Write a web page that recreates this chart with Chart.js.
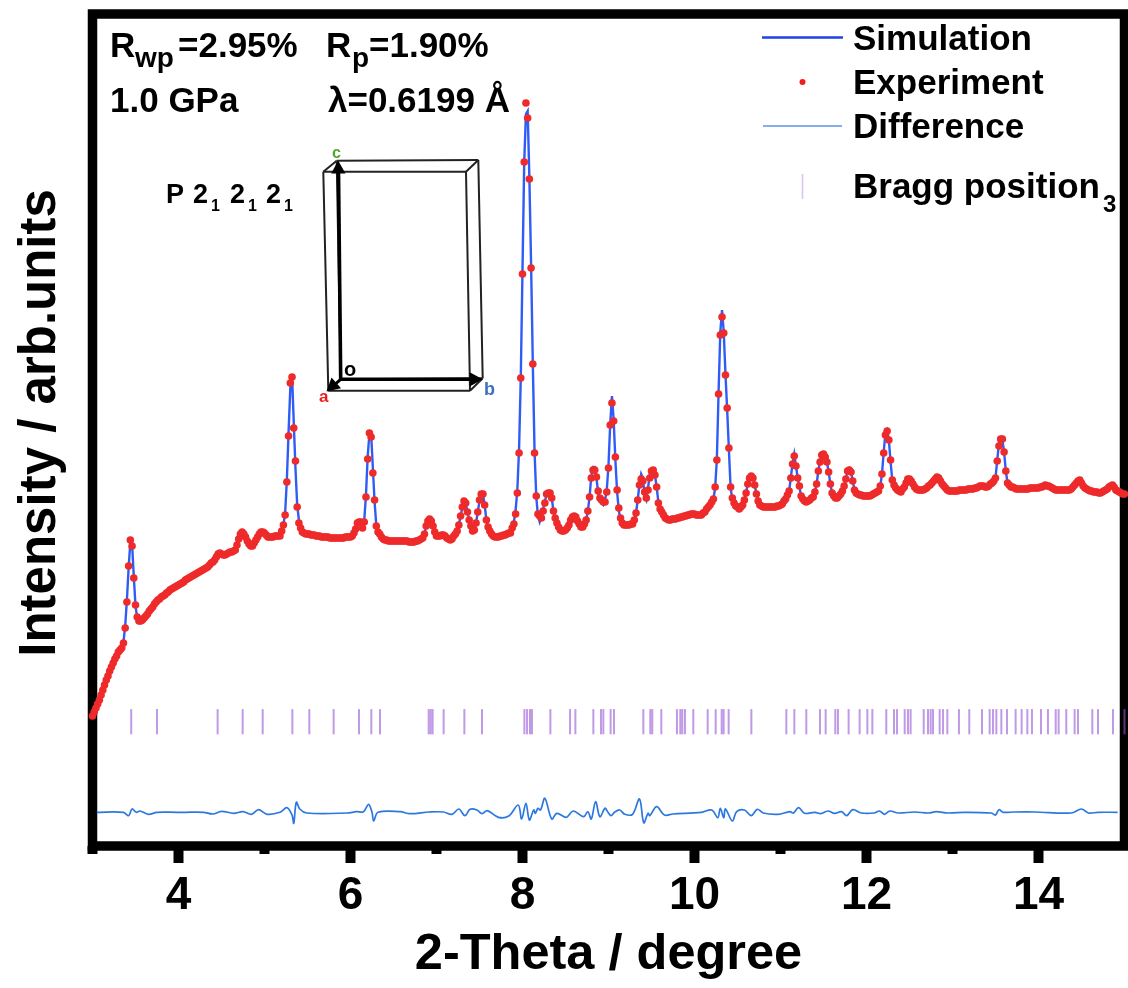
<!DOCTYPE html>
<html>
<head>
<meta charset="utf-8">
<title>Rietveld refinement at 1.0 GPa</title>
<script src="https://cdn.jsdelivr.net/npm/chart.js@4/dist/chart.umd.min.js"></script>
<style>
  html, body { margin: 0; padding: 0; background: #fff; }
  canvas { display: block; }
</style>
</head>
<body>
<canvas id="chart" width="1128" height="988"></canvas>
<script>
const THETA_START = 3;
const THETA_STEP = 0.02;

// one value every 0.02 degree, ten values per row
const experiment = [
  284,288,292,296,300,305,310,315,320,324,
  329,333,337,341,344,348,350,352,357,372,
  398,434,460,454,422,395,383,379,379,380,
  382,384,386,389,391,393,396,398,400,401,
  403,404,405,407,408,410,411,412,413,414,
  415,416,417,418,420,421,422,423,424,425,
  426,427,428,429,430,431,432,433,435,437,
  438,440,443,446,447,446,445,445,446,447,
  448,448,449,450,455,461,466,468,466,463,
  459,456,454,454,457,460,463,466,468,468,
  467,465,463,463,463,463,464,464,464,464,
  469,475,485,518,564,617,623,572,539,493,
  477,472,468,467,466,466,466,465,465,465,
  464,464,464,463,463,463,463,463,462,462,
  462,462,462,462,462,462,462,463,463,463,
  463,464,467,471,477,478,478,472,478,503,
  541,567,563,527,500,474,468,466,463,461,
  460,460,459,459,459,459,459,459,459,459,
  459,459,459,459,458,458,458,458,459,459,
  460,461,462,466,474,479,481,479,474,468,
  464,464,464,465,465,464,462,461,460,461,
  464,466,469,475,484,493,499,497,488,480,
  474,469,470,477,488,500,506,506,495,480,
  473,469,466,464,463,463,463,464,464,465,
  465,466,467,467,472,476,486,507,547,622,
  726,838,897,882,821,732,636,547,504,486,
  484,482,489,497,506,507,507,502,489,482,
  477,473,470,469,469,470,472,475,480,483,
  484,483,479,476,473,473,476,480,489,503,
  522,530,530,523,509,502,500,498,498,508,
  532,575,597,579,543,510,492,482,477,475,
  475,475,475,476,476,480,487,500,515,521,
  519,508,502,510,522,529,530,525,513,497,
  491,488,485,482,481,480,480,481,481,481,
  482,482,483,483,484,484,485,485,486,486,
  486,485,485,485,485,487,488,491,493,495,
  498,501,513,540,606,665,683,667,625,592,
  552,513,502,497,494,493,491,493,495,500,
  507,516,522,524,522,515,506,499,495,494,
  493,493,493,493,493,493,493,493,494,494,
  495,496,499,501,505,509,522,536,544,534,
  522,514,504,501,499,498,499,500,502,503,
  508,516,529,538,545,546,543,538,528,516,
  507,504,502,502,504,506,509,514,521,529,
  530,528,519,510,507,506,505,505,504,504,
  504,504,504,505,506,507,508,509,514,526,
  547,565,569,560,540,520,515,512,510,509,
  508,511,513,517,521,521,519,516,513,511,
  510,510,510,510,511,512,514,515,517,519,
  521,523,522,519,516,514,512,510,509,509,
  509,509,509,509,510,510,510,510,510,511,
  511,511,511,512,512,513,514,514,514,513,
  513,514,516,517,519,522,539,554,561,561,
  548,529,517,515,513,513,512,511,511,511,
  511,511,511,511,511,512,512,512,512,512,
  512,513,513,514,515,514,514,513,512,511,
  510,510,510,510,510,510,510,510,510,511,
  513,515,517,519,520,517,514,512,511,510,
  509,509,508,508,508,507,507,508,509,510,
  511,513,514,515,513,510,509,508,507,506,
  506
];

const simulation = [
  284,288,292,296,300,305,310,315,320,324,
  329,333,337,341,344,348,350,352,358,374,
  400,432,458,456,424,394,382,379,379,380,
  382,384,386,389,391,393,396,398,400,401,
  403,404,405,407,408,410,411,412,413,414,
  415,416,417,418,420,421,422,423,424,425,
  426,427,428,429,430,431,432,433,435,437,
  438,440,442,445,447,446,445,445,446,447,
  448,448,449,450,455,461,465,467,466,463,
  459,456,454,454,457,460,463,466,468,468,
  467,465,463,463,463,463,464,464,464,464,
  468,475,487,520,568,612,625,578,532,495,
  480,472,468,467,466,466,466,465,465,465,
  464,464,464,463,463,463,463,463,462,462,
  462,462,462,462,462,462,462,463,463,463,
  463,464,467,470,475,477,478,476,480,505,
  544,566,566,532,498,475,468,466,463,461,
  460,460,459,459,459,459,459,459,459,459,
  459,459,459,459,458,458,458,458,459,459,
  460,461,462,466,474,478,480,479,474,468,
  464,464,464,465,465,464,462,461,460,461,
  464,466,469,475,484,492,498,497,488,480,
  474,468,471,477,488,499,505,506,495,480,
  472,468,466,464,463,463,463,464,464,466,
  468,468,468,469,473,478,490,510,551,622,
  730,838,886,889,822,735,636,549,503,484,
  478,483,491,499,505,507,507,502,489,482,
  477,473,470,469,469,470,472,475,480,483,
  484,483,479,476,473,473,476,480,489,503,
  524,533,533,522,507,499,497,495,500,510,
  535,576,604,580,540,508,490,478,475,475,
  475,475,475,476,476,480,487,500,516,526,
  522,504,500,512,526,530,531,525,513,498,
  490,486,485,482,481,480,480,481,481,481,
  482,482,483,483,484,484,485,485,486,486,
  486,485,485,485,485,487,488,491,493,495,
  498,501,512,541,608,668,690,668,626,590,
  550,512,500,496,494,493,491,493,495,500,
  507,517,523,525,522,515,506,499,495,494,
  493,493,493,493,493,493,493,493,494,494,
  495,496,499,501,505,509,522,537,546,534,
  522,513,504,501,499,498,499,500,502,503,
  508,516,529,539,545,546,544,538,528,516,
  507,504,502,502,504,506,509,514,521,530,
  532,528,519,510,507,506,505,505,504,504,
  504,504,504,505,506,507,508,509,514,526,
  548,567,570,560,538,520,515,512,510,509,
  508,511,513,517,521,521,519,516,513,511,
  510,510,510,510,511,512,514,515,517,519,
  521,523,522,519,516,514,512,510,509,509,
  509,509,509,509,510,510,510,510,510,511,
  511,511,511,512,512,513,514,514,514,513,
  513,514,516,517,519,522,540,556,562,560,
  548,529,517,515,513,513,512,511,511,511,
  511,511,511,511,511,512,512,512,512,512,
  512,513,513,514,515,514,514,513,512,511,
  510,510,510,510,510,510,510,510,510,511,
  513,515,517,519,520,517,514,512,511,510,
  509,509,508,508,508,507,507,508,509,510,
  511,513,514,515,513,510,509,508,507,506,
  506
];

const differenceTheta = [
  3.05,3.36,3.42,3.46,3.51,3.55,3.65,3.75,3.98,4.08,4.29,4.40,4.50,4.64,4.75,4.85,4.93,5.03,5.18,5.26,
  5.32,5.34,5.37,5.41,5.49,5.96,6.07,6.15,6.21,6.25,6.27,6.32,6.58,6.69,6.92,7.08,7.18,7.26,7.33,7.39,
  7.47,7.53,7.59,7.72,7.84,7.95,7.99,8.04,8.08,8.13,8.15,8.18,8.21,8.26,8.34,8.40,8.51,8.59,8.71,8.76,
  8.80,8.85,8.90,8.96,8.99,9.03,9.07,9.13,9.19,9.28,9.36,9.41,9.46,9.48,9.56,9.65,9.75,10.08,10.20,10.27,
  10.30,10.34,10.36,10.44,10.49,10.58,10.66,10.73,10.80,10.97,11.11,11.15,11.21,11.28,11.40,11.47,11.55,11.63,11.71,11.77,
  11.84,11.94,12.09,12.15,12.21,12.27,12.37,12.56,12.72,12.81,12.95,13.14,13.45,13.50,13.54,13.59,13.72,13.96,14.38,14.50,
  14.58,14.69,14.92
];
const difference = [
  187.7,187.7,184.3,191,187.7,189,185.7,187.7,187.7,187.7,187.7,186,188.7,186.7,188.3,185.7,190.3,185.7,187.7,192.3,
  185,176.7,197.7,191,187,187,188.3,188.3,195.7,187.7,179,187.7,188.3,186.3,188,188,185.7,191,184.3,190.7,
  190,186.3,189.3,182.7,184,195,181,196.7,180,190,186.7,191.7,190,201.7,181,186.7,182.7,189,183.3,188.3,
  181,198.3,183.3,191.7,188.3,184.3,187.7,190,185.7,185.7,201,177.3,186.7,184.3,193.3,185,186,187.7,190,182.3,
  191.7,182.3,191,179,188.3,190,184.3,190.7,187,185.7,188.3,187,192.3,186.7,187.7,186.3,189,186.7,188.3,184.3,
  190.3,187,187,189,185.7,189,187,188,187,188.3,187,187.7,187,185,190.3,187.7,188,188,187,191,
  187,187.7,187.7
];

const braggPositions = [
  3.45,3.75,4.455,4.746,4.979,5.324,5.521,5.804,6.099,6.242,6.343,6.909,6.932,6.955,7.083,7.324,7.529,
  8.022,8.053,8.087,8.11,8.324,8.553,8.615,8.824,8.913,8.94,9.025,9.064,9.405,9.486,9.509,9.614,9.796,
  9.835,9.858,9.889,9.986,10.153,10.246,10.316,10.339,10.397,10.661,11.068,11.161,11.30,11.459,11.525,
  11.637,11.668,11.792,11.92,12.01,12.068,12.23,12.32,12.355,12.444,12.482,12.513,12.665,12.715,12.746,
  12.773,12.851,12.89,12.94,13.075,13.195,13.343,13.432,13.471,13.51,13.568,13.634,13.734,13.804,13.87,
  13.924,14.029,14.11,14.2,14.234,14.323,14.42,14.459,14.626,14.692,14.866,15
];
const BRAGG_LEVEL = 278.3;

const seriesLabels = ['Simulation', 'Experiment', 'Difference', 'Bragg position'];
const xTickLabels = [4, 6, 8, 10, 12, 14];

const FONT = '"Liberation Sans", Arial, sans-serif';
const BLACK = '#000';

function toPoints(xs, ys) {
  return ys.map((y, i) => ({ x: xs[i], y: y }));
}

function text(ctx, str, x, y, size, color) {
  ctx.font = `bold ${size}px ${FONT}`;
  ctx.fillStyle = color || BLACK;
  ctx.textAlign = 'left';
  ctx.textBaseline = 'alphabetic';
  ctx.fillText(str, x, y);
}

function line(ctx, x1, y1, x2, y2, width, color) {
  ctx.beginPath();
  ctx.moveTo(x1, y1);
  ctx.lineTo(x2, y2);
  ctx.lineWidth = width;
  ctx.strokeStyle = color || BLACK;
  ctx.stroke();
}

function arrowHead(ctx, x, y, angle, size) {
  ctx.save();
  ctx.translate(x, y);
  ctx.rotate(angle);
  ctx.beginPath();
  ctx.moveTo(0, 0);
  ctx.lineTo(-size, -size * 0.55);
  ctx.lineTo(-size, size * 0.55);
  ctx.closePath();
  ctx.fillStyle = BLACK;
  ctx.fill();
  ctx.restore();
}

// frame and tick marks go under the data, the curve ends sit on top of the spines
const framePlugin = {
  id: 'frame',
  beforeDatasetsDraw(chart) {
    const ctx = chart.ctx;
    const area = chart.chartArea;
    const xScale = chart.scales.x;
    ctx.save();
    ctx.strokeStyle = BLACK;
    ctx.lineWidth = 9.5;
    ctx.strokeRect(area.left, area.top, area.right - area.left, area.bottom - area.top);
    for (let tick of xScale.ticks) {
      let px = xScale.getPixelForValue(tick.value);
      let isMajor = xTickLabels.includes(tick.value);
      if (tick.value === 15) continue;
      line(ctx, px, area.bottom, px, area.bottom + (isMajor ? 17 : 8), 10);
    }
    ctx.restore();
  }
};

function drawLegend(ctx) {
  line(ctx, 762, 37.5, 843, 37.5, 2.5, '#2040e8');
  ctx.beginPath();
  ctx.arc(802.5, 82, 3, 0, Math.PI * 2);
  ctx.fillStyle = '#f01c1c';
  ctx.fill();
  line(ctx, 763, 126, 842, 126, 1.6, '#5b93e8');
  line(ctx, 802.5, 174, 802.5, 199, 1.6, '#d9c6ee');

  text(ctx, seriesLabels[0], 853, 50, 35);
  text(ctx, seriesLabels[1], 853, 94, 35);
  text(ctx, seriesLabels[2], 853, 138, 35);
  text(ctx, seriesLabels[3], 853, 198, 35);
  text(ctx, '3', 1103, 212, 24);
}

function drawStats(ctx) {
  text(ctx, 'R', 110, 57, 35);
  text(ctx, 'wp', 135, 67, 28);
  text(ctx, '=2.95%', 178, 57, 35);
  text(ctx, 'R', 326, 57, 35);
  text(ctx, 'p', 352, 67, 28);
  text(ctx, '=1.90%', 369, 57, 35);
  text(ctx, '1.0 GPa', 110, 112, 35);
  text(ctx, 'λ=0.6199 Å', 328, 112, 35);

  text(ctx, 'P', 166, 203, 27);
  text(ctx, '2', 193, 203, 27);
  text(ctx, '1', 211, 211, 16);
  text(ctx, '2', 230, 203, 27);
  text(ctx, '1', 248, 211, 16);
  text(ctx, '2', 266, 203, 27);
  text(ctx, '1', 284, 211, 16);
}

function drawCell(ctx) {
  const back = [[336.7, 160.7], [478.3, 160], [482.7, 378.3], [340.7, 379.3]];
  const front = [[323.3, 171.7], [466, 171.7], [470, 390.7], [328.3, 390.7]];
  for (let i = 0; i < 4; ++i) {
    let j = (i + 1) % 4;
    line(ctx, back[i][0], back[i][1], back[j][0], back[j][1], 2, '#222');
    line(ctx, front[i][0], front[i][1], front[j][0], front[j][1], 2, '#222');
    line(ctx, back[i][0], back[i][1], front[i][0], front[i][1], 2, '#222');
  }
  line(ctx, 340.7, 379.3, 338.5, 172, 3.6);
  arrowHead(ctx, 338.2, 160.5, -Math.PI / 2 - 0.01, 13);
  line(ctx, 340.7, 379.3, 470, 379.3, 3.6);
  arrowHead(ctx, 482.7, 379.3, 0, 13);
  line(ctx, 340.7, 379.3, 336, 383.5, 3);
  arrowHead(ctx, 326.5, 391.5, Math.PI * 0.77, 13);

  text(ctx, 'c', 332, 158, 16, '#55a630');
  text(ctx, 'o', 344, 376, 20);
  text(ctx, 'a', 319, 402, 17, '#f01c1c');
  text(ctx, 'b', 484, 395, 18, '#3a6fc4');
}

const notesPlugin = {
  id: 'notes',
  afterDraw(chart) {
    const ctx = chart.ctx;
    ctx.save();
    drawLegend(ctx);
    drawStats(ctx);
    drawCell(ctx);
    ctx.restore();
  }
};

const twoTheta = experiment.map((_, i) => THETA_START + THETA_STEP * i);

new Chart(document.getElementById('chart'), {
  type: 'scatter',
  data: {
    datasets: [
      {
        label: seriesLabels[0],
        data: toPoints(twoTheta, simulation),
        showLine: true,
        borderColor: '#2f5cf6',
        borderWidth: 2.4,
        pointRadius: 0,
        clip: false,
        order: 2
      },
      {
        label: seriesLabels[1],
        data: toPoints(twoTheta, experiment),
        showLine: false,
        pointRadius: 3.8,
        pointBorderWidth: 0,
        pointBackgroundColor: '#ee2a2a',
        clip: false,
        order: 1
      },
      {
        label: seriesLabels[2],
        data: toPoints(differenceTheta, difference),
        showLine: true,
        tension: 0.35,
        borderColor: '#2b78e0',
        borderWidth: 1.7,
        pointRadius: 0,
        order: 3
      },
      {
        label: seriesLabels[3],
        data: braggPositions.map(t => ({ x: t, y: BRAGG_LEVEL })),
        showLine: false,
        pointStyle: 'line',
        rotation: 90,
        pointRadius: 12.6,
        pointBorderWidth: 2,
        pointBorderColor: 'rgba(150, 85, 215, 0.6)',
        clip: false,
        order: 3
      }
    ]
  },
  options: {
    responsive: false,
    animation: false,
    layout: { autoPadding: false, padding: { top: 14, right: 3.5, left: 0, bottom: 0 } },
    plugins: {
      legend: { display: false },
      tooltip: { enabled: false }
    },
    scales: {
      x: {
        type: 'linear',
        min: 3,
        max: 15,
        afterFit(scale) { scale.height = 142; },
        // tickLength only pushes the labels down, the marks come from the frame plugin
        grid: { display: false, drawTicks: true, tickLength: 23 },
        border: { display: false },
        ticks: {
          stepSize: 1,
          autoSkip: false,
          maxRotation: 0,
          padding: 0,
          color: BLACK,
          font: { family: FONT, size: 46, weight: 'bold' },
          callback: v => (xTickLabels.includes(v) ? String(v) : '')
        },
        title: {
          display: true,
          text: '2-Theta / degree',
          color: BLACK,
          padding: { top: 0, bottom: 3 },
          font: { family: FONT, size: 50.5, weight: 'bold' }
        }
      },
      y: {
        type: 'linear',
        min: 154,
        max: 986,
        afterFit(scale) { scale.width = 92.5; },
        grid: { display: false, drawTicks: false },
        border: { display: false },
        ticks: { display: false },
        title: {
          display: true,
          text: ' Intensity / arb.units',
          color: BLACK,
          padding: { top: 10, bottom: 0 },
          font: { family: FONT, size: 51, weight: 'bold' }
        }
      }
    }
  },
  plugins: [framePlugin, notesPlugin]
});
</script>
</body>
</html>
